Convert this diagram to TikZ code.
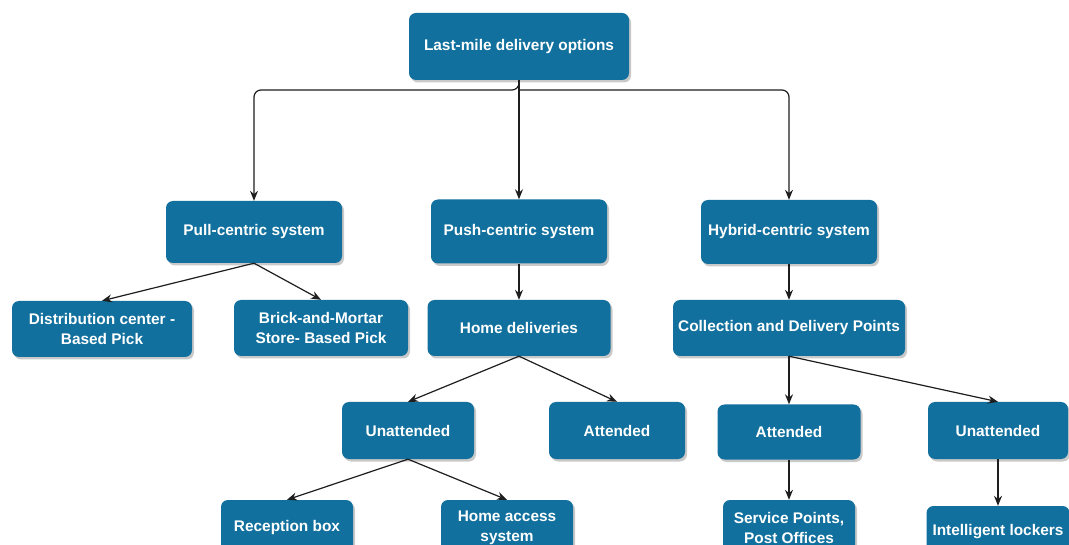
\documentclass[tikz,border=0pt]{standalone}
\usepackage{fontspec}
\setmainfont{Liberation Sans}
\usetikzlibrary{shadows,arrows.meta}
\definecolor{boxblue}{RGB}{17,112,157}
\definecolor{linegray}{RGB}{30,30,30}
\tikzset{
  bx/.style={draw=none, fill=boxblue, rounded corners=7pt, text=white,
    font=\bfseries\fontsize{15.4}{19.5}\selectfont, align=center, inner sep=0pt,
    drop shadow={shadow xshift=2pt, shadow yshift=-2.5pt, fill=black!35, opacity=0.6}},
  arr/.style={draw=linegray, line width=1.2pt, -{Stealth[length=10pt,width=8pt]}},
}
\begin{document}
\begin{tikzpicture}[x=1pt,y=-1pt]
\useasboundingbox (0,0) rectangle (1069,545);
\clip (0,0) rectangle (1069,545);
\fill[white] (0,0) rectangle (1069,545);
\node[bx, minimum width=220pt, minimum height=67pt] (root) at (519,46.5) {Last-mile delivery options};
\node[bx, minimum width=176pt, minimum height=62pt] (pull) at (254,232) {Pull-centric system};
\node[bx, minimum width=176pt, minimum height=64pt] (push) at (519,231.5) {Push-centric system};
\node[bx, minimum width=176pt, minimum height=64pt] (hybrid) at (789,232) {Hybrid-centric system};
\node[bx, minimum width=180pt, minimum height=56pt] (dist) at (102,329) {Distribution center -\\Based Pick};
\node[bx, minimum width=174pt, minimum height=56pt] (brick) at (321,328) {Brick-and-Mortar\\Store- Based Pick};
\node[bx, minimum width=183pt, minimum height=56pt] (home) at (519,328) {Home deliveries};
\node[bx, minimum width=232pt, minimum height=56pt] (coll) at (789,328) {Collection and Delivery Points};
\node[bx, minimum width=132pt, minimum height=57pt] (unL) at (408,430.5) {Unattended};
\node[bx, minimum width=136pt, minimum height=57pt] (attL) at (617,430.5) {Attended};
\node[bx, minimum width=143pt, minimum height=55pt] (attR) at (789,432) {Attended};
\node[bx, minimum width=140pt, minimum height=57pt] (unR) at (998,430.5) {Unattended};
\node[bx, minimum width=132pt, minimum height=56pt] (recep) at (287,528) {Reception box};
\node[bx, minimum width=132pt, minimum height=56pt] (homeacc) at (507,528) {Home access\\system};
\node[bx, minimum width=132pt, minimum height=56pt] (serv) at (789,528) {Service Points,\\Post Offices};
\node[bx, minimum width=143pt, minimum height=52pt] (lockers) at (998,532) {Intelligent lockers};
\coordinate (j) at (519,90);
\draw[arr, rounded corners=7pt] (root.south) -- (j) -| (pull.north);
\draw[arr] (root.south) -- (push.north);
\draw[arr, rounded corners=7pt] (j) -| (hybrid.north);
\draw[arr] (pull.south) -- (dist.north);
\draw[arr] (pull.south) -- (brick.north);
\draw[arr] (push.south) -- (home.north);
\draw[arr] (hybrid.south) -- (coll.north);
\draw[arr] (home.south) -- (unL.north);
\draw[arr] (home.south) -- (attL.north);
\draw[arr] (coll.south) -- (attR.north);
\draw[arr] (coll.south) -- (unR.north);
\draw[arr] (unL.south) -- (recep.north);
\draw[arr] (unL.south) -- (homeacc.north);
\draw[arr] (attR.south) -- (serv.north);
\draw[arr] (unR.south) -- (lockers.north);
\end{tikzpicture}
\end{document}
